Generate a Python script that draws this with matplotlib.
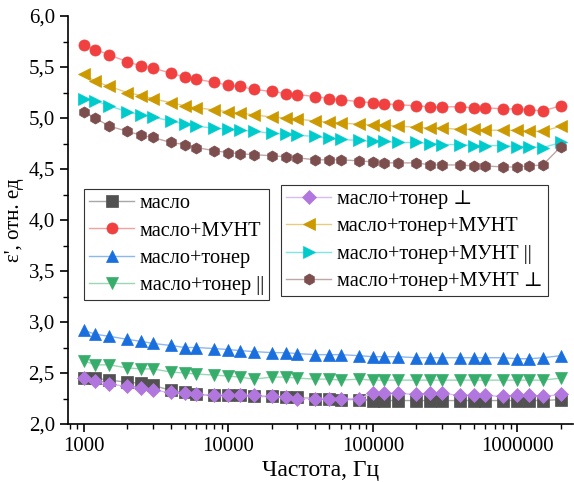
import numpy as np
import matplotlib
matplotlib.use('Agg')
import matplotlib.pyplot as plt
from matplotlib.ticker import FuncFormatter, MultipleLocator, FixedLocator, LogLocator, NullFormatter

plt.rcParams['font.family'] = ['Liberation Serif', 'DejaVu Serif']
plt.rcParams['mathtext.fontset'] = 'stix'

# частоты, Гц
freq = [1000, 1200, 1500, 2000, 2500, 3000, 4000, 5000, 6000, 8000,
        10000, 12000, 15000, 20000, 25000, 30000, 40000, 50000, 60000, 80000,
        100000, 120000, 150000, 200000, 250000, 300000, 400000, 500000, 600000, 800000,
        1000000, 1200000, 1500000, 2000000]

oil = [2.45, 2.45, 2.43, 2.41, 2.40, 2.38, 2.33, 2.31, 2.29, 2.28,
       2.28, 2.28, 2.27, 2.27, 2.26, 2.26, 2.25, 2.25, 2.24, 2.24,
       2.23, 2.23, 2.23, 2.23, 2.23, 2.23, 2.23, 2.23, 2.23, 2.23,
       2.23, 2.23, 2.23, 2.24]
oil_cnt = [5.72, 5.67, 5.62, 5.55, 5.51, 5.49, 5.44, 5.40, 5.38, 5.35,
           5.32, 5.31, 5.28, 5.26, 5.24, 5.23, 5.21, 5.19, 5.18, 5.16,
           5.15, 5.14, 5.13, 5.12, 5.11, 5.11, 5.11, 5.10, 5.10, 5.09,
           5.09, 5.08, 5.07, 5.12]
oil_ton = [2.92, 2.88, 2.86, 2.83, 2.81, 2.79, 2.77, 2.75, 2.75, 2.74,
           2.73, 2.72, 2.71, 2.70, 2.70, 2.69, 2.68, 2.68, 2.68, 2.67,
           2.66, 2.66, 2.66, 2.65, 2.65, 2.65, 2.65, 2.65, 2.65, 2.65,
           2.64, 2.64, 2.65, 2.67]
oil_ton_par = [2.62, 2.58, 2.58, 2.55, 2.54, 2.54, 2.51, 2.50, 2.49, 2.48,
               2.47, 2.46, 2.44, 2.46, 2.46, 2.45, 2.44, 2.44, 2.43, 2.44,
               2.43, 2.43, 2.43, 2.43, 2.43, 2.43, 2.43, 2.43, 2.43, 2.43,
               2.43, 2.43, 2.43, 2.45]
oil_ton_perp = [2.45, 2.42, 2.39, 2.37, 2.35, 2.33, 2.31, 2.30, 2.29, 2.28,
                2.28, 2.28, 2.28, 2.27, 2.26, 2.25, 2.25, 2.25, 2.25, 2.25,
                2.30, 2.30, 2.30, 2.29, 2.30, 2.30, 2.28, 2.28, 2.28, 2.27,
                2.28, 2.28, 2.27, 2.29]
oil_ton_cnt = [5.43, 5.36, 5.31, 5.25, 5.22, 5.19, 5.15, 5.12, 5.10, 5.08,
               5.06, 5.05, 5.03, 5.01, 5.00, 4.99, 4.97, 4.96, 4.95, 4.94,
               4.93, 4.93, 4.92, 4.91, 4.90, 4.90, 4.89, 4.89, 4.88, 4.88,
               4.88, 4.87, 4.87, 4.92]
oil_ton_cnt_par = [5.19, 5.17, 5.12, 5.06, 5.03, 5.01, 4.97, 4.94, 4.92, 4.90,
                   4.89, 4.88, 4.87, 4.85, 4.84, 4.83, 4.82, 4.80, 4.79, 4.78,
                   4.77, 4.77, 4.76, 4.76, 4.75, 4.74, 4.74, 4.73, 4.73, 4.73,
                   4.72, 4.72, 4.71, 4.76]
oil_ton_cnt_perp = [5.06, 5.00, 4.92, 4.87, 4.83, 4.81, 4.76, 4.74, 4.71, 4.68,
                    4.66, 4.65, 4.64, 4.63, 4.62, 4.61, 4.59, 4.59, 4.59, 4.58,
                    4.57, 4.56, 4.56, 4.56, 4.54, 4.54, 4.54, 4.53, 4.53, 4.52,
                    4.52, 4.53, 4.54, 4.72]

series = [
    (oil, 'масло', 's', '#515151'),
    (oil_cnt, 'масло+МУНТ', 'o', '#F14040'),
    (oil_ton, 'масло+тонер', '^', '#1A6FDF'),
    (oil_ton_par, 'масло+тонер ||', 'v', '#37AD6B'),
    (oil_ton_perp, 'масло+тонер ⊥', 'D', '#B177DE'),
    (oil_ton_cnt, 'масло+тонер+МУНТ', '<', '#CC9900'),
    (oil_ton_cnt_par, 'масло+тонер+МУНТ ||', '>', '#00CBCC'),
    (oil_ton_cnt_perp, 'масло+тонер+МУНТ ⊥', 'h', '#7D4E4E'),
]

def lighten(c, f=0.5):
    rgb = np.array(matplotlib.colors.to_rgb(c))
    return tuple(rgb + (1 - rgb) * f)

fig = plt.figure(figsize=(5.74, 4.82), dpi=100)
ax = fig.add_axes([0.1185, 0.1203, 0.88, 0.8465])

handles = []
for vals, lab, mk, col in series:
    ms = 7 if mk == 'D' else 8
    h, = ax.plot(freq, vals, color=lighten(col), lw=1.0, marker=mk, ms=ms,
                 mfc=col, mec=col, mew=0.5, label=lab)
    handles.append(h)

ax.set_xscale('log')
ax.set_xlim(778, 2.43e6)
ax.set_ylim(2.0, 6.0)
ax.xaxis.set_major_locator(FixedLocator([1e3, 1e4, 1e5, 1e6]))
ax.xaxis.set_major_formatter(FuncFormatter(lambda v, p: f"{int(round(v))}"))
ax.xaxis.set_minor_locator(LogLocator(base=10, subs=np.arange(2, 10), numticks=20))
ax.xaxis.set_minor_formatter(NullFormatter())
ax.yaxis.set_major_locator(MultipleLocator(0.5))
ax.yaxis.set_minor_locator(MultipleLocator(0.25))
ax.yaxis.set_major_formatter(FuncFormatter(lambda v, p: f"{v:.1f}".replace('.', ',')))

for s in ['top', 'right']:
    ax.spines[s].set_visible(False)
for s in ['left', 'bottom']:
    ax.spines[s].set_linewidth(1.2)
ax.tick_params(which='major', direction='out', length=6, width=1.2, labelsize=15, colors='black')
ax.tick_params(which='minor', direction='out', length=3.5, width=1.0)

ax.set_xlabel('Частота, Гц', fontsize=17, labelpad=3)
ax.set_ylabel("ε', отн. ед", fontsize=15, labelpad=3)

leg_kw = dict(loc='upper left', borderaxespad=0, fancybox=False, framealpha=1,
              edgecolor='#333333', fontsize=14.6, handlelength=2.2, handletextpad=0.3,
              labelspacing=0.4, borderpad=0.25)
leg1 = ax.legend(handles=handles[:4], bbox_to_anchor=(0.032, 0.576), **leg_kw)
leg1.get_frame().set_linewidth(0.8)
ax.add_artist(leg1)
leg2 = ax.legend(handles=handles[4:], bbox_to_anchor=(0.422, 0.586), **leg_kw)
leg2.get_frame().set_linewidth(0.8)

fig.savefig('out.png', dpi=100)
